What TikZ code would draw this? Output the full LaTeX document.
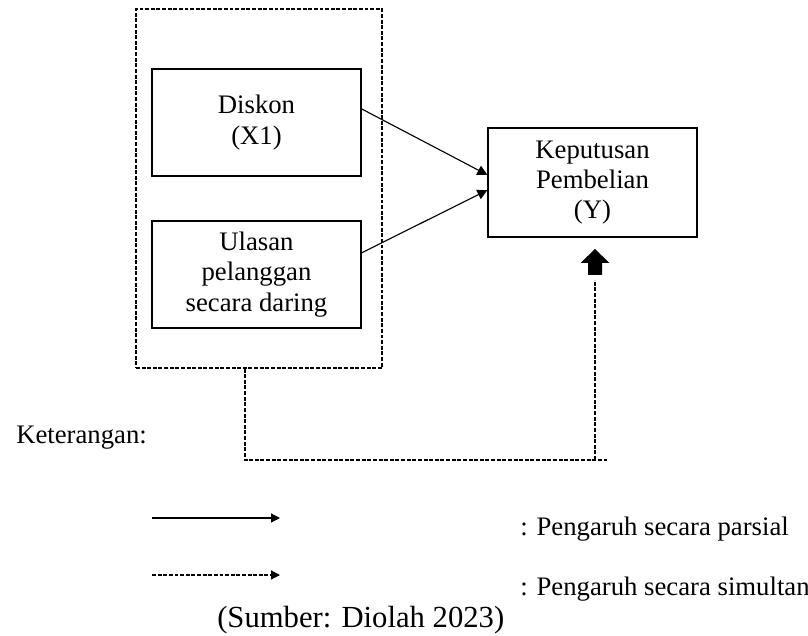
\documentclass[tikz,border=0pt]{standalone}
\usepackage{fontspec}
\setmainfont{Liberation Serif}
\usetikzlibrary{arrows.meta}
\begin{document}
\begin{tikzpicture}[x=0.025cm, y=-0.025cm,
  kotak/.style={draw, line width=0.8pt, minimum width=5.225cm, align=center, inner sep=0pt, font=\fontsize{19}{21.6}\selectfont},
  putus/.style={line width=0.8pt, dash pattern=on 2.8pt off 1.2pt},
  panah/.style={line width=0.8pt, -{Triangle[length=2.5mm,width=2.5mm]}},
  panahket/.style={line width=0.8pt, -{Triangle[length=2.2mm,width=2.2mm]}},
  teks/.style={inner sep=0pt, font=\fontsize{19}{21.6}\selectfont}]
\useasboundingbox (0,0) rectangle (808,636);

\node[draw, putus, minimum width=6.15cm, minimum height=8.975cm] (grup) at (259,188.5) {};
\node[kotak, minimum height=2.675cm] (diskon) at (256.5,122.5) {Diskon\\(X1)};
\node[kotak, minimum height=2.675cm] (ulasan) at (256.5,274.5) {Ulasan\\pelanggan\\secara daring};
\node[kotak, minimum height=2.725cm] (keputusan) at (592.5,182.5) {Keputusan\\Pembelian\\(Y)};

\draw[panah] ([yshift=0.34cm]diskon.east) -- ([yshift=0.19cm]keputusan.west);
\draw[panah] ([yshift=0.54cm]ulasan.east) -- ([yshift=-0.19cm]keputusan.west);

\coordinate (belok) at (607,460);
\coordinate (naik) at (595,460);
\coordinate (blok) at (595,275);
\draw[putus] ([xshift=-0.35cm]grup.south) |- (belok);
\draw[putus] (naik) -- ([yshift=-0.125cm]blok);
\fill ([xshift=-0.175cm]blok) -- ++(0,-12) -- ++(-7.5,0) -- ++(14.5,-14) -- ++(14.5,14) -- ++(-7.5,0) -- ++(0,12) -- cycle;

\node[teks, anchor=base west] (ket) at (16,443) {Keterangan:};
\coordinate (p1) at (152,518);
\coordinate (p2) at (280,518);
\coordinate (s1) at (152,575);
\coordinate (s2) at (280,575);
\draw[panahket] (p1) -- (p2);
\draw[panahket, dash pattern=on 2.8pt off 1.2pt] (s1) -- (s2);
\node[teks, anchor=base west] (parsial) at (520,535) {: Pengaruh secara parsial};
\node[teks, anchor=base west] (simultan) at (520,595) {: Pengaruh secara simultan};
\node[teks, anchor=base west, font=\fontsize{21.8}{24}\selectfont] (sumber) at (217,627) {(Sumber: Diolah 2023)};

\end{tikzpicture}
\end{document}
